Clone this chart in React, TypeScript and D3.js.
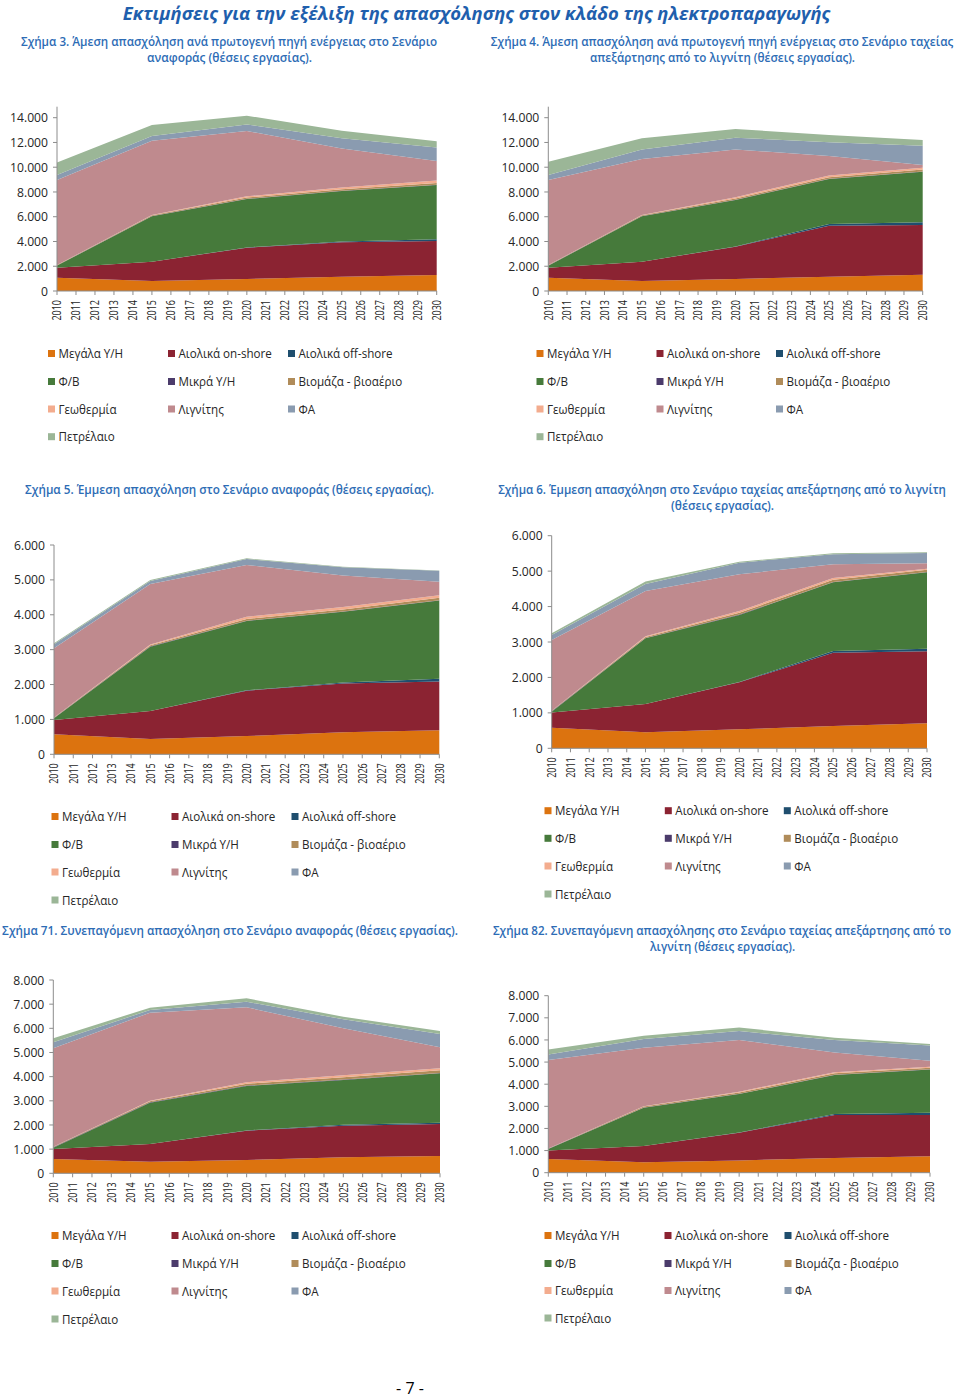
import React, { useLayoutEffect, useRef, useState } from 'react';
import * as d3 from 'd3';

// ---------- DATA ----------
const YEARS = [2010, 2015, 2020, 2025, 2030];
const YEAR_TICKS = [2010, 2011, 2012, 2013, 2014, 2015, 2016, 2017, 2018, 2019, 2020, 2021, 2022, 2023, 2024, 2025, 2026, 2027, 2028, 2029, 2030];
const SERIES = ['Μεγάλα Υ/Η', 'Αιολικά on-shore', 'Αιολικά off-shore', 'Φ/Β', 'Μικρά Υ/Η', 'Βιομάζα - βιοαέριο', 'Γεωθερμία', 'Λιγνίτης', 'ΦΑ', 'Πετρέλαιο'];
const COLORS = ['#DC730F', '#8B2332', '#1F4E6E', '#467A3B', '#4B3B6B', '#B08C5A', '#F3AC8E', '#BF8A8E', '#8A9BB0', '#9BB697'];

const TICKS_14 = [0, 2000, 4000, 6000, 8000, 10000, 12000, 14000];
const TICKS_6 = [0, 1000, 2000, 3000, 4000, 5000, 6000];
const TICKS_8 = [0, 1000, 2000, 3000, 4000, 5000, 6000, 7000, 8000];

// rows follow SERIES order, columns follow YEARS
const fig3Values = [
  [1080, 810, 970, 1160, 1290],
  [800, 1560, 2530, 2770, 2750],
  [0, 0, 20, 60, 150],
  [170, 3660, 3910, 4090, 4370],
  [20, 20, 20, 20, 20],
  [30, 60, 100, 120, 150],
  [0, 30, 100, 150, 200],
  [6860, 6000, 5270, 3150, 1570],
  [410, 380, 540, 810, 1100],
  [1020, 890, 700, 620, 490],
];
const fig4Values = [
  [1080, 810, 970, 1160, 1320],
  [800, 1560, 2610, 4120, 4010],
  [0, 0, 20, 130, 220],
  [165, 3660, 3750, 3640, 4090],
  [20, 20, 20, 20, 20],
  [30, 60, 100, 120, 150],
  [0, 30, 100, 150, 150],
  [6865, 4520, 3870, 1560, 220],
  [410, 780, 950, 1110, 1560],
  [1080, 890, 700, 590, 460],
];
const fig5Values = [
  [573, 440, 525, 630, 688],
  [411, 800, 1300, 1400, 1400],
  [0, 0, 10, 30, 76],
  [47, 1845, 1986, 2024, 2245],
  [10, 10, 10, 10, 10],
  [15, 30, 50, 60, 70],
  [0, 20, 60, 70, 70],
  [1981, 1735, 1484, 900, 384],
  [115, 86, 173, 239, 316],
  [30, 30, 20, 15, 10],
];
const fig6Values = [
  [583, 452, 536, 630, 706],
  [424, 799, 1327, 2070, 2032],
  [0, 0, 10, 47, 75],
  [28, 1853, 1890, 1938, 2154],
  [10, 10, 10, 10, 10],
  [15, 30, 50, 60, 60],
  [0, 20, 50, 50, 30],
  [1997, 1276, 1038, 388, 154],
  [141, 198, 329, 282, 292],
  [47, 66, 28, 28, 19],
];
const fig7Values = [
  [593, 483, 552, 662, 717],
  [414, 731, 1214, 1310, 1324],
  [0, 0, 10, 42, 56],
  [55, 1710, 1838, 1848, 2041],
  [15, 15, 15, 15, 15],
  [20, 40, 80, 100, 110],
  [0, 20, 60, 80, 80],
  [4075, 3649, 3100, 1943, 871],
  [249, 111, 234, 372, 552],
  [165, 96, 138, 111, 124],
];
const fig8Values = [
  [617, 467, 557, 663, 738],
  [392, 738, 1250, 1942, 1867],
  [0, 0, 10, 50, 110],
  [60, 1732, 1737, 1758, 1954],
  [10, 10, 10, 10, 10],
  [20, 40, 60, 70, 70],
  [0, 20, 40, 50, 40],
  [3991, 2641, 2330, 894, 271],
  [256, 391, 407, 557, 693],
  [226, 151, 165, 105, 60],
];

const MAIN_TITLE = 'Εκτιμήσεις για την εξέλιξη της απασχόλησης στον κλάδο της ηλεκτροπαραγωγής';
const FOOTER = '- 7 -';

// ---------- LAYOUT ----------
const FONT = "'Open Sans', 'Noto Sans', sans-serif";
const TITLE_BLUE = '#1F5FAD';
const SUB_BLUE = '#2D6CB5';
const AXIS = '#8C8C8C';
const TXT = '#262626';

type ChartCfg = {
  values: number[][];
  ticks: number[];
  x0: number; x1: number; y0: number; yTopTick: number; axisTop: number;
  legendCols: number[]; legendRows: number[];
};

const charts: ChartCfg[] = [
  { values: fig3Values, ticks: TICKS_14, x0: 57, x1: 436.7, y0: 291, yTopTick: 117.7, axisTop: 106.7,
    legendCols: [51.5, 171.5, 291.5], legendRows: [353.5, 381.5, 409, 436.7] },
  { values: fig4Values, ticks: TICKS_14, x0: 548.3, x1: 922.7, y0: 291, yTopTick: 117.7, axisTop: 106.7,
    legendCols: [540, 660, 779.5], legendRows: [353.5, 381.5, 409, 436.7] },
  { values: fig5Values, ticks: TICKS_6, x0: 54, x1: 439.3, y0: 754.3, yTopTick: 545, axisTop: 545,
    legendCols: [55, 175, 295], legendRows: [816.5, 844.5, 872, 900] },
  { values: fig6Values, ticks: TICKS_6, x0: 551.7, x1: 927, y0: 748.3, yTopTick: 535.7, axisTop: 535.7,
    legendCols: [548, 668.3, 787.3], legendRows: [810.7, 838.3, 866, 894] },
  { values: fig7Values, ticks: TICKS_8, x0: 53.3, x1: 440, y0: 1173.3, yTopTick: 980, axisTop: 980,
    legendCols: [55, 175, 295], legendRows: [1235.5, 1263.5, 1291, 1319] },
  { values: fig8Values, ticks: TICKS_8, x0: 548.3, x1: 930, y0: 1172.7, yTopTick: 995.7, axisTop: 995.7,
    legendCols: [548, 668, 788], legendRows: [1235.5, 1263.5, 1290.5, 1318] },
];

type Line = { text: string; cx: number; y: number; len: number };
const subtitles: Line[] = [
  { text: 'Σχήμα 3. Άμεση απασχόληση ανά πρωτογενή πηγή ενέργειας στο Σενάριο', cx: 229, y: 46, len: 416 },
  { text: 'αναφοράς (θέσεις εργασίας).', cx: 229.5, y: 62, len: 165 },
  { text: 'Σχήμα 4. Άμεση απασχόληση ανά πρωτογενή πηγή ενέργειας στο Σενάριο ταχείας', cx: 722, y: 46, len: 462 },
  { text: 'απεξάρτησης από το λιγνίτη (θέσεις εργασίας).', cx: 722.5, y: 62, len: 265 },
  { text: 'Σχήμα 5. Έμμεση απασχόληση στο Σενάριο αναφοράς (θέσεις εργασίας).', cx: 229.5, y: 494, len: 409 },
  { text: 'Σχήμα 6. Έμμεση απασχόληση στο Σενάριο ταχείας απεξάρτησης από το λιγνίτη', cx: 722, y: 494, len: 448 },
  { text: '(θέσεις εργασίας).', cx: 722.5, y: 510, len: 103 },
  { text: 'Σχήμα 71. Συνεπαγόμενη απασχόληση στο Σενάριο αναφοράς (θέσεις εργασίας).', cx: 230, y: 935, len: 456 },
  { text: 'Σχήμα 82. Συνεπαγόμενη απασχόλησης στο Σενάριο ταχείας απεξάρτησης από το', cx: 722, y: 935, len: 458 },
  { text: 'λιγνίτη (θέσεις εργασίας).', cx: 722.5, y: 951, len: 145 },
];

const fmt = (v: number) => d3.format(',')(v).replace(/,/g, '.');

// Text horizontally scaled to fit an exact width (measured after mount)
function FitText(props: { text: string; cx: number; y: number; len: number; size: number; weight?: number; italic?: boolean; fill: string }) {
  const ref = useRef<SVGTextElement>(null);
  const [sx, setSx] = useState(0.86);
  useLayoutEffect(() => {
    if (ref.current) {
      const w = ref.current.getComputedTextLength();
      if (w > 0) setSx(props.len / w);
    }
  }, [props.text, props.len]);
  return (
    <text ref={ref} transform={`translate(${props.cx},${props.y}) scale(${sx},1)`} textAnchor="middle"
      fontFamily={FONT} fontSize={props.size} fontWeight={props.weight || 400}
      fontStyle={props.italic ? 'italic' : 'normal'} fill={props.fill}>{props.text}</text>
  );
}

function Chart({ cfg }: { cfg: ChartCfg }) {
  const x = d3.scaleLinear().domain([YEAR_TICKS[0], YEAR_TICKS[YEAR_TICKS.length - 1]]).range([cfg.x0, cfg.x1]);
  const maxTick = cfg.ticks[cfg.ticks.length - 1];
  const y = d3.scaleLinear().domain([0, maxTick]).range([cfg.y0, cfg.yTopTick]);
  const rows = YEARS.map((yr, i) => {
    const r: any = { year: yr };
    SERIES.forEach((s, k) => { r[s] = cfg.values[k][i]; });
    return r;
  });
  const stacked = d3.stack<any>().keys(SERIES)(rows);
  const area = d3.area<any>()
    .x((d) => x(d.data.year))
    .y0((d) => y(d[0]))
    .y1((d) => y(d[1]));
  return (
    <g>
      {stacked.map((s, k) => (
        <path key={k} d={area(s) || ''} fill={COLORS[k]} stroke="none" />
      ))}
      {/* y axis */}
      <line x1={cfg.x0} x2={cfg.x0} y1={cfg.axisTop} y2={cfg.y0} stroke={AXIS} strokeWidth={1} />
      {cfg.ticks.map((t) => (
        <g key={t}>
          <line x1={cfg.x0 - 4} x2={cfg.x0} y1={y(t)} y2={y(t)} stroke={AXIS} strokeWidth={1} />
          <text transform={`translate(${cfg.x0 - 9},${y(t) + 4.6}) scale(0.9,1)`} textAnchor="end"
            fontFamily={FONT} fontSize={13.5} fill={TXT}>{fmt(t)}</text>
        </g>
      ))}
      {/* x axis */}
      <line x1={cfg.x0} x2={cfg.x1} y1={cfg.y0} y2={cfg.y0} stroke={AXIS} strokeWidth={1} />
      {YEAR_TICKS.map((yr) => (
        <g key={yr}>
          <line x1={x(yr)} x2={x(yr)} y1={cfg.y0} y2={cfg.y0 + 4} stroke={AXIS} strokeWidth={1} />
          <text transform={`translate(${x(yr) + 4.3},${cfg.y0 + 9}) rotate(-90) scale(0.72,1)`} textAnchor="end"
            fontFamily={FONT} fontSize={12.5} fill={TXT}>{yr}</text>
        </g>
      ))}
      {/* legend */}
      {SERIES.map((s, k) => {
        const col = k % 3;
        const row = Math.floor(k / 3);
        const lx = cfg.legendCols[col];
        const ly = cfg.legendRows[row];
        return (
          <g key={s}>
            <rect x={lx - 3.5} y={ly - 3.5} width={7} height={7} fill={COLORS[k]} />
            <text transform={`translate(${lx + 7},${ly + 4.6}) scale(0.88,1)`} fontFamily={FONT}
              fontSize={13.2} fill={TXT}>{s}</text>
          </g>
        );
      })}
    </g>
  );
}

export default function App() {
  return (
    <svg width={960} height={1399} viewBox="0 0 960 1399"
      style={{ position: 'absolute', left: 0, top: 0, background: '#fff' }}>
      <rect x={0} y={0} width={960} height={1399} fill="#fff" />
      <FitText text={MAIN_TITLE} cx={476.5} y={19.5} len={707} size={18} weight={700} italic fill={TITLE_BLUE} />
      {subtitles.map((l, i) => (
        <FitText key={i} text={l.text} cx={l.cx} y={l.y} len={l.len} size={13} weight={600} fill={SUB_BLUE} />
      ))}
      {charts.map((c, i) => <Chart key={i} cfg={c} />)}
      <text x={410} y={1394} textAnchor="middle" fontFamily={FONT} fontSize={16} fill="#000">{FOOTER}</text>
    </svg>
  );
}
